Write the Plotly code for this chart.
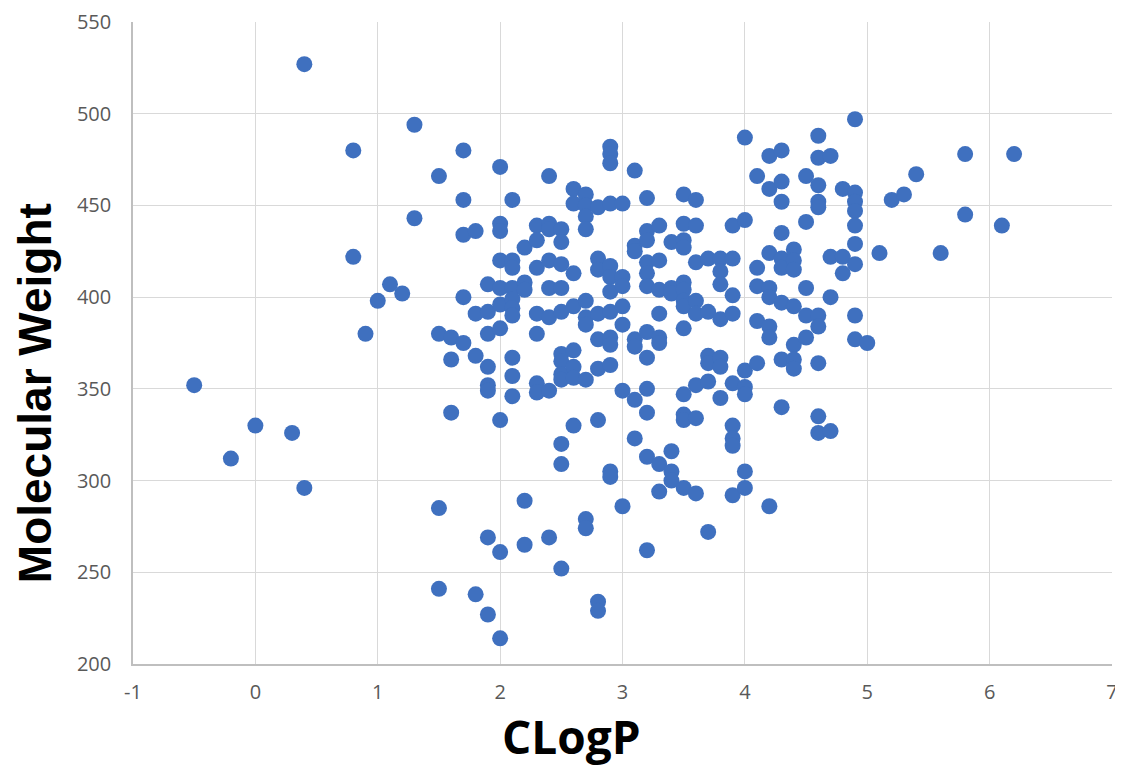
import plotly.graph_objects as go

# CLogP values (x) and Molecular Weight values (y)
clogp = [
    -0.5, -0.2, 0.0, 0.3, 0.4, 0.4, 0.8, 0.8, 0.9, 1.0, 1.1, 1.2, 1.3, 1.3,
    1.5, 1.5, 1.5, 1.5, 1.6, 1.6, 1.6, 1.7, 1.7, 1.7, 1.7, 1.7,
    1.8, 1.8, 1.8, 1.8, 1.9, 1.9, 1.9, 1.9, 1.9, 1.9, 1.9, 1.9,
    2.0, 2.0, 2.0, 2.0, 2.0, 2.0, 2.0, 2.0, 2.0, 2.0,
    2.1, 2.1, 2.1, 2.1, 2.1, 2.1, 2.1, 2.1, 2.1, 2.1,
    2.2, 2.2, 2.2, 2.2, 2.2,
    2.3, 2.3, 2.3, 2.3, 2.3, 2.3, 2.3,
    2.4, 2.4, 2.4, 2.4, 2.4, 2.4, 2.4, 2.4,
    2.5, 2.5, 2.5, 2.5, 2.5, 2.5, 2.5, 2.5, 2.5, 2.5, 2.5, 2.5,
    2.6, 2.6, 2.6, 2.6, 2.6, 2.6, 2.6, 2.6,
    2.7, 2.7, 2.7, 2.7, 2.7, 2.7, 2.7, 2.7, 2.7, 2.7,
    2.8, 2.8, 2.8, 2.8, 2.8, 2.8, 2.8, 2.8, 2.8,
    2.9, 2.9, 2.9, 2.9, 2.9, 2.9, 2.9, 2.9, 2.9, 2.9, 2.9, 2.9, 2.9,
    3.0, 3.0, 3.0, 3.0, 3.0, 3.0, 3.0,
    3.1, 3.1, 3.1, 3.1, 3.1, 3.1, 3.1,
    3.2, 3.2, 3.2, 3.2, 3.2, 3.2, 3.2, 3.2, 3.2, 3.2, 3.2, 3.2,
    3.3, 3.3, 3.3, 3.3, 3.3, 3.3, 3.3, 3.3,
    3.4, 3.4, 3.4, 3.4, 3.4, 3.4,
    3.5, 3.5, 3.5, 3.5, 3.5, 3.5, 3.5, 3.5, 3.5, 3.5, 3.5, 3.5, 3.5,
    3.6, 3.6, 3.6, 3.6, 3.6, 3.6, 3.6, 3.6,
    3.7, 3.7, 3.7, 3.7, 3.7, 3.7,
    3.8, 3.8, 3.8, 3.8, 3.8, 3.8, 3.8,
    3.9, 3.9, 3.9, 3.9, 3.9, 3.9, 3.9, 3.9, 3.9,
    4.0, 4.0, 4.0, 4.0, 4.0, 4.0, 4.0,
    4.1, 4.1, 4.1, 4.1, 4.1,
    4.2, 4.2, 4.2, 4.2, 4.2, 4.2, 4.2, 4.2,
    4.3, 4.3, 4.3, 4.3, 4.3, 4.3, 4.3, 4.3, 4.3,
    4.4, 4.4, 4.4, 4.4, 4.4, 4.4, 4.4,
    4.5, 4.5, 4.5, 4.5, 4.5,
    4.6, 4.6, 4.6, 4.6, 4.6, 4.6, 4.6, 4.6, 4.6, 4.6,
    4.7, 4.7, 4.7, 4.7,
    4.8, 4.8, 4.8,
    4.9, 4.9, 4.9, 4.9, 4.9, 4.9, 4.9, 4.9, 4.9,
    5.0, 5.1, 5.2, 5.3, 5.4, 5.6, 5.8, 5.8, 6.1, 6.2,
]

mol_weight = [
    352, 312, 330, 326, 296, 527, 480, 422, 380, 398, 407, 402, 494, 443,
    466, 380, 285, 241, 378, 366, 337, 480, 453, 434, 400, 375,
    436, 391, 368, 238, 407, 392, 380, 362, 352, 349, 269, 227,
    471, 440, 436, 420, 405, 396, 383, 333, 261, 214,
    453, 420, 416, 405, 399, 394, 390, 367, 357, 346,
    427, 408, 404, 289, 265,
    439, 431, 416, 391, 380, 353, 348,
    466, 440, 437, 420, 405, 389, 349, 269,
    437, 430, 418, 405, 392, 369, 365, 358, 355, 320, 309, 252,
    459, 451, 413, 395, 371, 362, 356, 330,
    456, 450, 444, 437, 398, 389, 385, 355, 279, 274,
    449, 421, 415, 391, 377, 361, 333, 234, 229,
    482, 478, 473, 451, 417, 411, 403, 392, 378, 374, 363, 305, 302,
    451, 411, 406, 395, 385, 349, 286,
    469, 428, 425, 377, 373, 344, 323,
    454, 436, 431, 419, 413, 406, 381, 367, 350, 337, 313, 262,
    439, 420, 404, 391, 378, 375, 309, 294,
    430, 405, 402, 316, 305, 300,
    456, 440, 431, 427, 408, 404, 398, 395, 383, 347, 336, 333, 296,
    453, 439, 419, 398, 391, 352, 334, 293,
    421, 392, 368, 364, 354, 272,
    421, 414, 407, 388, 367, 362, 345,
    439, 421, 401, 391, 353, 330, 323, 319, 292,
    487, 442, 360, 351, 347, 305, 296,
    466, 416, 406, 387, 364,
    477, 459, 424, 405, 400, 384, 378, 286,
    480, 463, 452, 435, 421, 416, 397, 366, 340,
    426, 420, 415, 395, 374, 366, 361,
    466, 441, 405, 390, 378,
    488, 476, 461, 452, 449, 390, 384, 364, 335, 326,
    477, 422, 400, 327,
    459, 422, 413,
    497, 457, 452, 447, 439, 429, 418, 390, 377,
    375, 424, 453, 456, 467, 424, 478, 445, 439, 478,
]

x_ticks = [-1, 0, 1, 2, 3, 4, 5, 6, 7]
y_ticks = [200, 250, 300, 350, 400, 450, 500, 550]

x_title = "CLogP"
y_title = "Molecular Weight"

fig = go.Figure()
fig.add_trace(go.Scatter(
    x=clogp, y=mol_weight, mode="markers",
    marker=dict(size=16, color="#3f70bf", line=dict(width=0)),
    hoverinfo="x+y", showlegend=False,
))

tick_font = dict(family="Open Sans, Lato, sans-serif", size=20, color="#595959")

fig.update_layout(
    width=1115, height=761,
    margin=dict(l=125, r=11, t=14, b=105, autoexpand=False),
    paper_bgcolor="white", plot_bgcolor="white",
    xaxis=dict(
        range=[-1, 7], tickvals=x_ticks, ticktext=[str(v) for v in x_ticks],
        showgrid=True, gridcolor="#d9d9d9", gridwidth=1,
        zeroline=False, showline=True, linecolor="#bfbfbf", linewidth=1.5,
        ticks="", tickfont=tick_font, ticklabelstandoff=9, automargin=False,
    ),
    yaxis=dict(
        range=[200, 550], tickvals=y_ticks, ticktext=[str(v) for v in y_ticks],
        showgrid=True, gridcolor="#d9d9d9", gridwidth=1,
        zeroline=False, showline=True, linecolor="#bfbfbf", linewidth=1.5,
        ticks="", tickfont=tick_font, ticklabelstandoff=16, automargin=False,
    ),
    annotations=[
        dict(text=x_title, xref="paper", yref="paper", x=0.448, y=-0.112,
             xanchor="center", yanchor="middle", showarrow=False,
             font=dict(family="Open Sans, Lato, sans-serif", size=46,
                       color="#000000", weight="bold")),
        dict(text=y_title, xref="paper", yref="paper", x=-0.1, y=0.422,
             xanchor="center", yanchor="middle", showarrow=False, textangle=-90,
             font=dict(family="Liberation Sans, Arial, sans-serif", size=46,
                       color="#000000", weight="bold")),
    ],
)

fig.write_html("out.html")
